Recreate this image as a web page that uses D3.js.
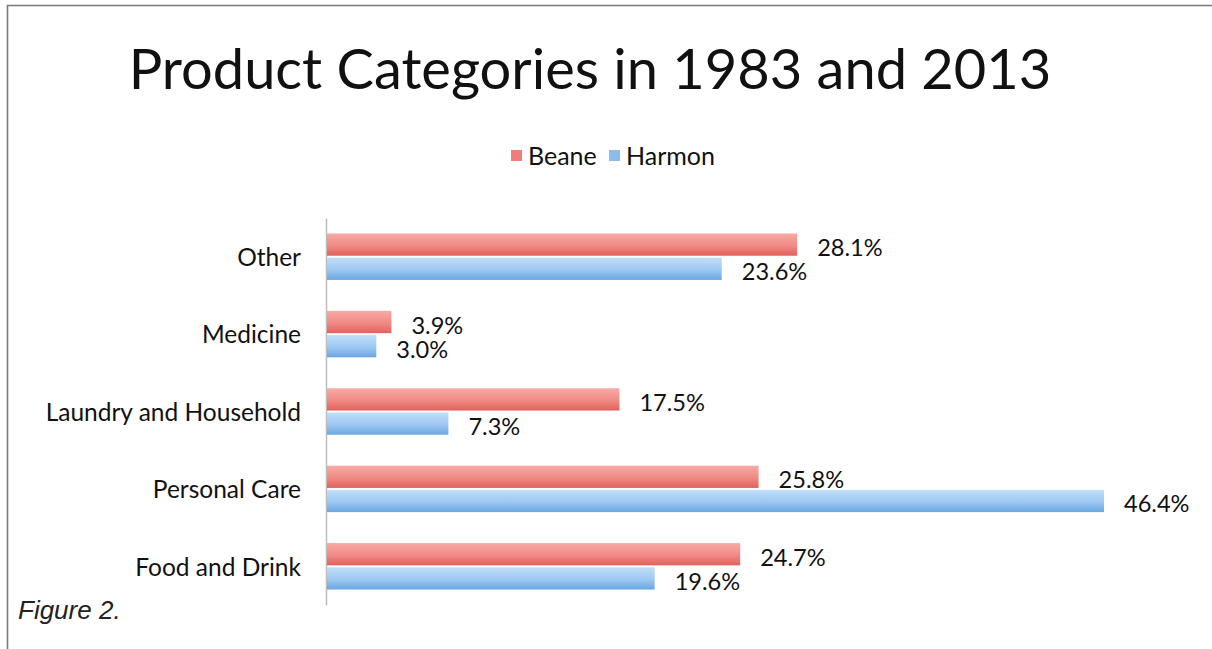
<!DOCTYPE html>
<html><head><meta charset="utf-8">
<script src="https://cdn.jsdelivr.net/npm/d3@7"></script>
<style>body{margin:0;background:#fff}svg{display:block}</style>
</head><body>
<script>
const categories = ["Other","Medicine","Laundry and Household","Personal Care","Food and Drink"];
const beane = [28.1, 3.9, 17.5, 25.8, 24.7];
const harmon = [23.6, 3.0, 7.3, 46.4, 19.6];
const seriesNames = ["Beane","Harmon"];

const W=1212,H=649;
const svg=d3.select("body").append("svg").attr("width",W).attr("height",H);
const font="Lato, 'Open Sans', sans-serif";

const defs=svg.append("defs");
function grad(id,c1,c2,c3){
  const g=defs.append("linearGradient").attr("id",id).attr("x1",0).attr("y1",0).attr("x2",0).attr("y2",1);
  g.append("stop").attr("offset","0%").attr("stop-color",c1);
  g.append("stop").attr("offset","55%").attr("stop-color",c2);
  g.append("stop").attr("offset","100%").attr("stop-color",c3);
}
grad("gR","#f8aaa6","#f08a84","#e2615b");
grad("gB","#c2def8","#9cc8f2","#6aa6e2");
const fills=["url(#gR)","url(#gB)"];
const legendFill=["#ef7d78","#8bbcec"];

// frame
svg.append("path").attr("d",`M7.5,${H+5} V5.5 H${W+5}`).attr("fill","none").attr("stroke","#7a7a7a").attr("stroke-width",1.6);

// title
svg.append("text").attr("x",590).attr("y",89).attr("text-anchor","middle")
  .attr("font-family",font).attr("font-size",56).attr("fill","#111").text("Product Categories in 1983 and 2013");

const x=d3.scaleLinear().domain([0,46.4]).range([326,1104]);
const y=d3.scaleBand().domain(categories).range([218,605]).paddingInner(0.4).paddingOuter(0.2);
const ys=d3.scaleBand().domain(seriesNames).range([0,y.bandwidth()]).paddingInner(0.08);

// legend
const leg=svg.append("g").attr("font-family",font).attr("font-size",25).attr("fill","#111");
const legX=[511,609];
seriesNames.forEach((s,i)=>{
  leg.append("rect").attr("x",legX[i]).attr("y",150).attr("width",11).attr("height",11).attr("fill",legendFill[i]);
  leg.append("text").attr("x",legX[i]+17).attr("y",165).text(s);
});

// axis
svg.append("g").attr("transform","translate(326,0)")
  .call(d3.axisLeft(y).tickSize(0).tickPadding(25))
  .call(g=>g.select(".domain").attr("stroke","#bdbdbd").attr("stroke-width",1.5))
  .call(g=>g.selectAll("text").attr("font-family",font).attr("font-size",24.5).attr("fill","#111").attr("dy","0.38em"));

const data=[beane,harmon];
data.forEach((arr,si)=>{
  const g=svg.append("g");
  g.selectAll("rect").data(arr).join("rect")
    .attr("x",x(0)+1).attr("y",(d,i)=>y(categories[i])+ys(seriesNames[si]))
    .attr("width",d=>x(d)-x(0)-1).attr("height",ys.bandwidth()).attr("fill",fills[si]);
  g.selectAll("text").data(arr).join("text")
    .attr("x",d=>x(d)+20).attr("y",(d,i)=>y(categories[i])+ys(seriesNames[si])+ys.bandwidth()/2+11.5)
    .attr("font-family",font).attr("font-size",23.6).attr("fill","#111")
    .text(d=>d.toFixed(1)+"%");
});

svg.append("text").attr("x",18).attr("y",619).attr("font-family","'Liberation Sans', Arial, sans-serif")
  .attr("font-style","italic").attr("font-size",26).attr("fill","#222").text("Figure 2.");
</script>
</body></html>
